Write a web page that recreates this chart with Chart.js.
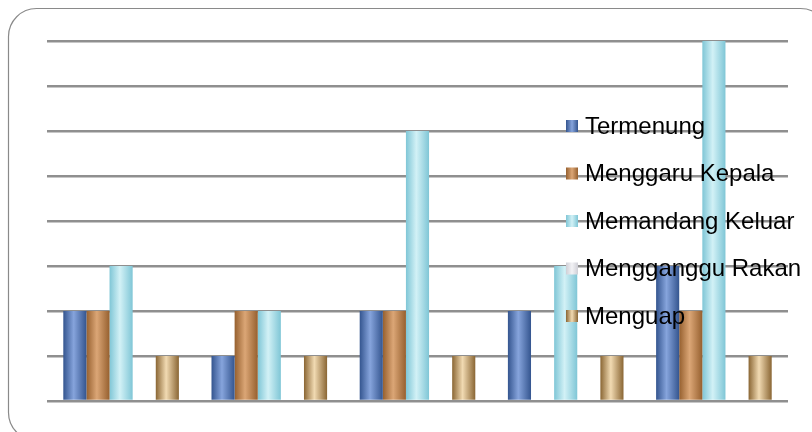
<!DOCTYPE html>
<html>
<head>
<meta charset="utf-8">
<script src="https://cdn.jsdelivr.net/npm/chart.js@4.4.1/dist/chart.umd.min.js"></script>
<style>
  html, body { margin: 0; padding: 0; background: #fff; }
  #wrap { position: relative; width: 812px; height: 432px; }
</style>
</head>
<body>
<div id="wrap"><canvas id="behaviourChart" width="812" height="432"></canvas></div>
<script>
// data
const categories = ['Kumpulan 1', 'Kumpulan 2', 'Kumpulan 3', 'Kumpulan 4', 'Kumpulan 5'];
const seriesNames = ['Termenung', 'Menggaru Kepala', 'Memandang Keluar', 'Mengganggu Rakan', 'Menguap'];
const termenung = [2, 1, 2, 2, 3];
const menggaruKepala = [2, 2, 2, 0, 2];
const memandangKeluar = [3, 2, 6, 3, 8];
const menggangguRakan = [0, 0, 0, 0, 0];
const menguap = [1, 1, 1, 1, 1];
const yTicks = [0, 1, 2, 3, 4, 5, 6, 7, 8];

// colours: edge, middle (cylinder look)
const shades = [
  ['#34558f', '#86a4dc'],
  ['#96602f', '#dba676'],
  ['#7fc6d6', '#d2f1f6'],
  ['#cfcfd6', '#f2f2f5'],
  ['#8a6634', '#f1dab2']
];

const CAT_PCT = 0.78;

function barFill(ctx) {
  const chart = ctx.chart;
  const di = ctx.datasetIndex;
  const x = chart.scales.x;
  if (!x || ctx.dataIndex === undefined || !chart.chartArea) return shades[di][1];
  const catW = x.width / categories.length;
  const groupW = catW * CAT_PCT;
  const barW = groupW / seriesNames.length;
  const left = x.getPixelForValue(ctx.dataIndex) - groupW / 2 + di * barW;
  if (!isFinite(left) || !isFinite(barW) || barW <= 0) return shades[di][1];
  const g = chart.ctx.createLinearGradient(left, 0, left + barW, 0);
  g.addColorStop(0, shades[di][0]);
  g.addColorStop(0.45, shades[di][1]);
  g.addColorStop(1, shades[di][0]);
  return g;
}

const seriesValues = [termenung, menggaruKepala, memandangKeluar, menggangguRakan, menguap];

const frame = {
  id: 'frame',
  beforeDraw(chart) {
    const c = chart.ctx;
    c.save();
    c.strokeStyle = '#8a8a8a';
    c.lineWidth = 1.2;
    c.beginPath();
    c.roundRect(8.5, 8.5, 820, 432, 28);
    c.stroke();
    c.restore();
  }
};

const sideLegend = {
  id: 'sideLegend',
  afterDatasetsDraw(chart) {
    const c = chart.ctx;
    c.save();
    c.font = '24px "Liberation Sans", Arial, sans-serif';
    c.textBaseline = 'middle';
    seriesNames.forEach((name, i) => {
      const y = 126 + i * 47.5;
      const g = c.createLinearGradient(566, 0, 578, 0);
      g.addColorStop(0, shades[i][0]);
      g.addColorStop(0.5, shades[i][1]);
      g.addColorStop(1, shades[i][0]);
      c.fillStyle = g;
      c.fillRect(566, y - 6, 12, 12);
      c.fillStyle = '#000';
      c.fillText(name, 585, y + 1);
    });
    c.restore();
  }
};

const ctx = document.getElementById('behaviourChart').getContext('2d');
new Chart(ctx, {
  type: 'bar',
  data: {
    labels: categories,
    datasets: seriesNames.map((name, i) => ({
      label: name,
      data: seriesValues[i],
      backgroundColor: barFill,
      borderWidth: 0,
      categoryPercentage: CAT_PCT,
      barPercentage: 1
    }))
  },
  options: {
    responsive: false,
    animation: false,
    layout: { padding: { left: 47, right: 24, top: 41, bottom: 31 } },
    plugins: {
      legend: { display: false },
      tooltip: { enabled: false }
    },
    scales: {
      x: {
        display: false
      },
      y: {
        min: yTicks[0],
        max: yTicks[yTicks.length - 1],
        border: { display: false },
        ticks: { display: false, stepSize: 1 },
        grid: { color: '#8f8f8f', lineWidth: 2.5, drawTicks: false }
      }
    }
  },
  plugins: [frame, sideLegend]
});
</script>
</body>
</html>
